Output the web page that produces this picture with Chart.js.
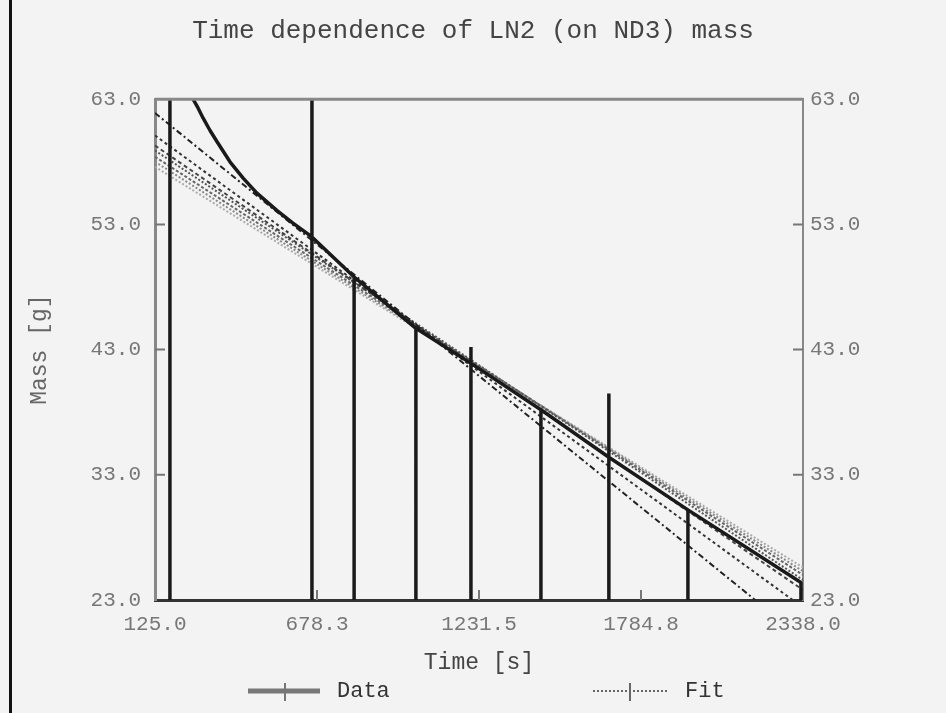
<!DOCTYPE html>
<html>
<head>
<meta charset="utf-8">
<script src="https://cdn.jsdelivr.net/npm/chart.js@4.4.1/dist/chart.umd.min.js"></script>
<style>
  html, body { margin: 0; padding: 0; background: #f3f3f3; }
  #wrap { position: relative; width: 946px; height: 713px; }
  #edge { position: absolute; left: 9px; top: 0; width: 3px; height: 713px; background: #111; }
  canvas { position: absolute; left: 0; top: 0; }
</style>
</head>
<body>
<div id="wrap">
  <canvas id="myChart" width="946" height="713"></canvas>
  <div id="edge"></div>
</div>
<script>
// tick labels
const timeTicks = [125.0, 678.3, 1231.5, 1784.8, 2338.0];
const massTicks = [23.0, 33.0, 43.0, 53.0, 63.0];

// measured mass (vertical strokes are signal dropouts / overflows)
const dataTime = [176, 176, 255, 272, 289, 313, 337, 359, 381, 426, 473, 542, 596, 661, 661, 661, 661,
                  805, 805, 805, 1016, 1016, 1016, 1204, 1204, 1204, 1204, 1443, 1443, 1443,
                  1675, 1675, 1675, 1675, 1945, 1945, 1945, 2331, 2331];
const dataMass = [0, 70, 63.0, 62.3, 61.5, 60.5, 59.6, 58.8, 58.0, 56.7, 55.5, 54.1, 53.1, 52.0, 70, 0, 52.0,
                  48.8, 0, 48.8, 44.7, 0, 44.7, 41.9, 43.2, 0, 41.9, 38.2, 0, 38.2,
                  34.4, 39.5, 0, 34.4, 30.2, 0, 30.2, 24.4, 0];

// fit curves: value at first and last time
const fitTime = [125.0, 2338.0];
const fitStart = [61.9, 60.1, 59.3, 58.9, 58.4, 58.0, 57.6];
const fitEnd = [19.9, 22.4, 23.8, 24.6, 25.0, 25.3, 25.6];

const FONT = "'Liberation Mono', 'DejaVu Sans Mono', monospace";
const fitColors = ['#222', '#333', '#444', '#555', '#666', '#888', '#aaa'];
const fitDash = [[6, 3, 2, 3], [3, 3], [4, 3], [2, 2], [3, 2], [2, 2], [2, 2]];

const datasets = [{
    label: 'Data',
    data: dataTime.map((t, i) => ({ x: t, y: dataMass[i] })),
    borderColor: '#1a1a1a',
    borderWidth: 3.5,
    pointRadius: 0,
    tension: 0,
    borderJoinStyle: 'bevel',
    clip: 0
}];

fitStart.forEach((s, i) => {
    datasets.push({
        label: 'Fit',
        data: [{ x: fitTime[0], y: s }, { x: fitTime[1], y: fitEnd[i] }],
        borderColor: fitColors[i],
        borderWidth: 2,
        borderDash: fitDash[i],
        pointRadius: 0,
        tension: 0,
        clip: 0
    });
});

const frame = {
    id: 'frame',
    afterDatasetsDraw(chart) {
        const ctx = chart.ctx;
        const a = chart.chartArea;
        const xs = chart.scales.x, ys = chart.scales.y;
        ctx.save();
        // top border
        ctx.strokeStyle = '#888';
        ctx.lineWidth = 3;
        ctx.beginPath();
        ctx.moveTo(a.left, a.top);
        ctx.lineTo(a.right, a.top);
        ctx.stroke();
        // inward ticks
        ctx.strokeStyle = '#777';
        ctx.lineWidth = 2;
        massTicks.slice(1, -1).forEach(v => {
            const y = ys.getPixelForValue(v);
            ctx.beginPath();
            ctx.moveTo(a.left, y); ctx.lineTo(a.left + 10, y);
            ctx.moveTo(a.right, y); ctx.lineTo(a.right - 10, y);
            ctx.stroke();
        });
        timeTicks.slice(1, -1).forEach(v => {
            const x = xs.getPixelForValue(v);
            ctx.beginPath();
            ctx.moveTo(x, a.bottom); ctx.lineTo(x, a.bottom - 10);
            ctx.stroke();
        });
        ctx.restore();
    },
    afterDraw(chart) {
        const ctx = chart.ctx;
        const a = chart.chartArea;
        const ly = 691;
        const x1 = a.left + 93, x2 = a.left + 438;
        ctx.save();
        // Data sample
        ctx.strokeStyle = '#777';
        ctx.lineWidth = 5;
        ctx.beginPath();
        ctx.moveTo(x1, ly); ctx.lineTo(x1 + 72, ly);
        ctx.stroke();
        ctx.lineWidth = 2;
        ctx.beginPath();
        ctx.moveTo(x1 + 37, ly - 8); ctx.lineTo(x1 + 37, ly + 10);
        ctx.stroke();
        // Fit sample
        ctx.strokeStyle = '#666';
        ctx.setLineDash([2, 2]);
        ctx.beginPath();
        ctx.moveTo(x2, ly); ctx.lineTo(x2 + 75, ly);
        ctx.stroke();
        ctx.setLineDash([]);
        ctx.beginPath();
        ctx.moveTo(x2 + 37, ly - 8); ctx.lineTo(x2 + 37, ly + 10);
        ctx.stroke();
        // labels
        ctx.fillStyle = '#333';
        ctx.font = '22px ' + FONT;
        ctx.textBaseline = 'middle';
        ctx.fillText('Data', x1 + 89, ly);
        ctx.fillText('Fit', x2 + 92, ly);
        ctx.restore();
    }
};

const tickFont = { family: FONT, size: 21 };

const config = {
    type: 'line',
    data: { datasets: datasets },
    options: {
        responsive: false,
        animation: false,
        devicePixelRatio: 1,
        layout: { padding: 0 },
        plugins: {
            legend: { display: false },
            tooltip: { enabled: false },
            title: {
                display: true,
                text: 'Time dependence of LN2 (on ND3) mass',
                color: '#444',
                font: { family: FONT, size: 26, weight: 'normal' },
                padding: { top: 16, bottom: 52 }
            }
        },
        scales: {
            x: {
                type: 'linear',
                position: 'bottom',
                min: 125.0,
                max: 2338.0,
                afterBuildTicks: s => { s.ticks = timeTicks.map(v => ({ value: v })); },
                afterFit: s => { s.height = 113; },
                grid: { display: false, drawTicks: false },
                border: { display: true, color: '#333', width: 3 },
                ticks: {
                    color: '#777',
                    font: tickFont,
                    padding: 12,
                    maxRotation: 0,
                    callback: v => v.toFixed(1)
                },
                title: {
                    display: true,
                    text: 'Time [s]',
                    color: '#444',
                    font: { family: FONT, size: 23 },
                    padding: { top: 0, bottom: 36 }
                }
            },
            y: {
                position: 'left',
                min: 23.0,
                max: 63.0,
                afterBuildTicks: s => { s.ticks = massTicks.map(v => ({ value: v })); },
                afterFit: s => { s.width = 155; },
                grid: { display: false, drawTicks: false },
                border: { display: true, color: '#888', width: 3 },
                ticks: {
                    color: '#777',
                    font: tickFont,
                    padding: 14,
                    callback: v => v.toFixed(1)
                },
                title: {
                    display: true,
                    text: 'Mass [g]',
                    color: '#666',
                    font: { family: FONT, size: 23 },
                    padding: { top: 26, bottom: 0 }
                }
            },
            y2: {
                position: 'right',
                min: 23.0,
                max: 63.0,
                afterBuildTicks: s => { s.ticks = massTicks.map(v => ({ value: v })); },
                afterFit: s => { s.width = 143; },
                grid: { display: false, drawTicks: false },
                border: { display: true, color: '#888', width: 2 },
                ticks: {
                    color: '#777',
                    font: tickFont,
                    padding: 7,
                    callback: v => v.toFixed(1)
                }
            }
        }
    },
    plugins: [frame]
};

const chart = new Chart(document.getElementById('myChart'), config);
</script>
</body>
</html>
